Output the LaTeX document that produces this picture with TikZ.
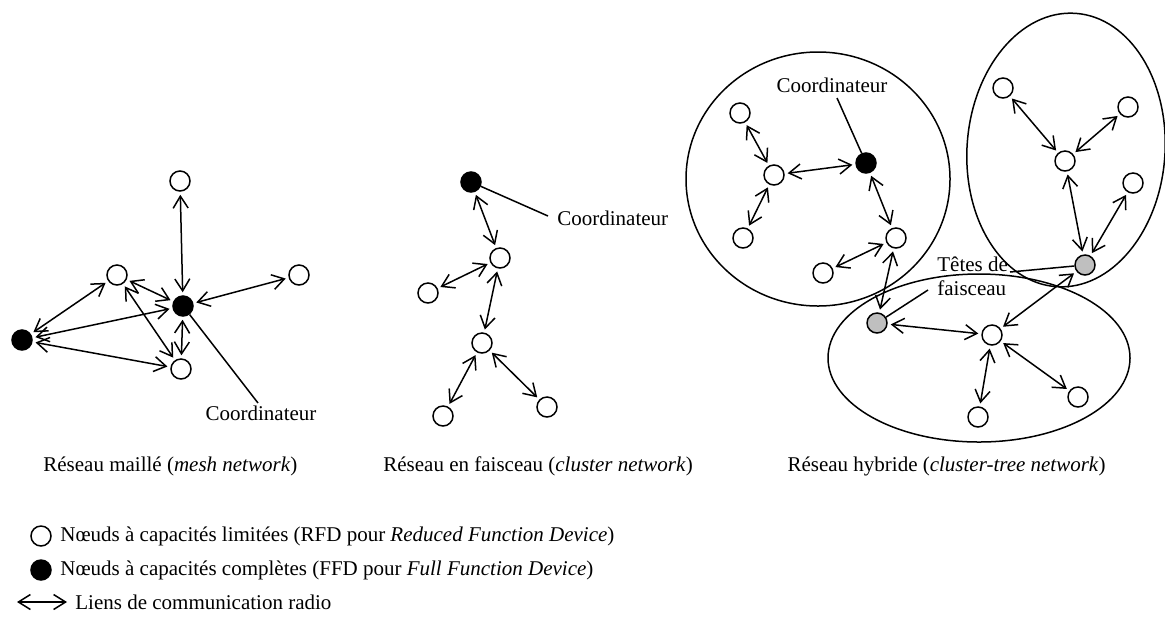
\documentclass[tikz,border=0pt]{standalone}
\usepackage{fontspec}
\setmainfont{Liberation Serif}
\usetikzlibrary{arrows.meta}
\begin{document}
\begin{tikzpicture}[x=0.5pt,y=-0.5pt,
  every node/.style={font=\fontsize{10.5}{12}\selectfont},
  rfd/.style={circle,draw,fill=white,line width=0.75pt,minimum size=10pt,inner sep=0pt},
  ffd/.style={rfd,fill=black},
  chd/.style={rfd,fill=black!25},
  link/.style={line width=0.75pt,{Straight Barb[length=6pt,width=7.5pt]}-{Straight Barb[length=6pt,width=7.5pt]},shorten <=1.5pt,shorten >=1.5pt},
  lbl/.style={inner sep=0pt},
  ptr/.style={line width=0.75pt},
  zone/.style={line width=0.75pt}]
\useasboundingbox (0,0) rectangle (1165,617);

% ---------- mesh network ----------
\node[rfd] (m1) at (180,181) {};
\node[rfd] (m2) at (117,275) {};
\node[ffd] (m0) at (183,306) {};
\node[rfd] (m3) at (299,275) {};
\node[ffd] (m4) at (22,340) {};
\node[rfd] (m5) at (181,369) {};
\node[lbl] (mc) at (261,413) {Coordinateur};
\draw[link] (m1) -- (m0);
\draw[link] (m2) -- (m0);
\draw[link] (m3) -- (m0);
\draw[link] (m4) -- (m2);
\draw[link] (m4) -- (m0);
\draw[link] (m4) -- (m5);
\draw[link] (m2) -- (m5);
\draw[link] (m0) -- (m5);
\coordinate (mcp) at (258,403);
\draw[ptr] (m0) -- (mcp);

% ---------- cluster network ----------
\node[ffd] (c0) at (471,182) {};
\node[rfd] (c1) at (500,258) {};
\node[rfd] (c2) at (428,293) {};
\node[rfd] (c3) at (482,343) {};
\node[rfd] (c4) at (443,416) {};
\node[rfd] (c5) at (547,407) {};
\node[lbl,anchor=west] (cc) at (557,218) {Coordinateur};
\draw[link] (c0) -- (c1);
\draw[link] (c1) -- (c2);
\draw[link] (c1) -- (c3);
\draw[link] (c3) -- (c4);
\draw[link] (c3) -- (c5);
\coordinate (ccp) at (548,216);
\draw[ptr] (c0) -- (ccp);

% ---------- hybrid network ----------
\draw[zone] (818,179) ellipse [x radius=132, y radius=127];
\draw[zone,rotate around={-4:(1066,150)}] (1066,150) ellipse [x radius=99, y radius=137];
\draw[zone] (979,358) ellipse [x radius=151, y radius=84];

\node[rfd] (ha) at (740,113) {};
\node[rfd] (hb) at (774,175) {};
\node[rfd] (hc) at (743,238) {};
\node[ffd] (h0) at (866,163) {};
\node[rfd] (hd) at (896,238) {};
\node[rfd] (he) at (823,273) {};
\node[chd] (gl) at (877,323) {};
\node[chd] (gr) at (1085,265) {};
\node[rfd] (hf) at (1003,88) {};
\node[rfd] (hg) at (1128,107) {};
\node[rfd] (hh) at (1065,161) {};
\node[rfd] (hi) at (1133,183) {};
\node[rfd] (hj) at (992,335) {};
\node[rfd] (hk) at (978,417) {};
\node[rfd] (hl) at (1078,397) {};
\node[lbl] (hc0) at (832,85) {Coordinateur};
\node[lbl,align=left,anchor=west] (tf) at (937,276) {Têtes de\\faisceau};

\draw[link] (ha) -- (hb);
\draw[link] (hb) -- (h0);
\draw[link] (hb) -- (hc);
\draw[link] (h0) -- (hd);
\draw[link] (hd) -- (he);
\draw[link] (hd) -- (gl);
\draw[link] (hf) -- (hh);
\draw[link] (hg) -- (hh);
\draw[link] (hh) -- (gr);
\draw[link] (hi) -- (gr);
\draw[link] (gl) -- (hj);
\draw[link] (gr) -- (hj);
\draw[link] (hj) -- (hk);
\draw[link] (hj) -- (hl);

\coordinate (hcp) at (837,98);
\draw[ptr] (h0) -- (hcp);
\coordinate (tfr) at (1010,272);
\draw[ptr] (gr) -- (tfr);
\coordinate (tfl) at (928,290);
\draw[ptr] (gl) -- (tfl);

% ---------- captions ----------
\node[lbl,anchor=west] (cap1) at (43,466) {Réseau maillé (\textit{mesh network})};
\node[lbl,anchor=west] (cap2) at (383,466) {Réseau en faisceau (\textit{cluster network})};
\node[lbl,anchor=east] (cap3) at (1106,466) {Réseau hybride (\textit{cluster-tree network})};

% ---------- legend ----------
\node[rfd] (l1) at (41,536) {};
\node[lbl,anchor=west] (t1) at (60,536) {Nœuds à capacités limitées (RFD pour \textit{Reduced Function Device})};
\node[ffd] (l2) at (41,570) {};
\node[lbl,anchor=west] (t2) at (60,570) {Nœuds à capacités complètes (FFD pour \textit{Full Function Device})};
\coordinate (la) at (17,602);
\coordinate (lb) at (67,602);
\draw[link,shorten <=0pt,shorten >=0pt] (la) -- (lb);
\node[lbl,anchor=west] (t3) at (75,602) {Liens de communication radio};
\end{tikzpicture}
\end{document}
